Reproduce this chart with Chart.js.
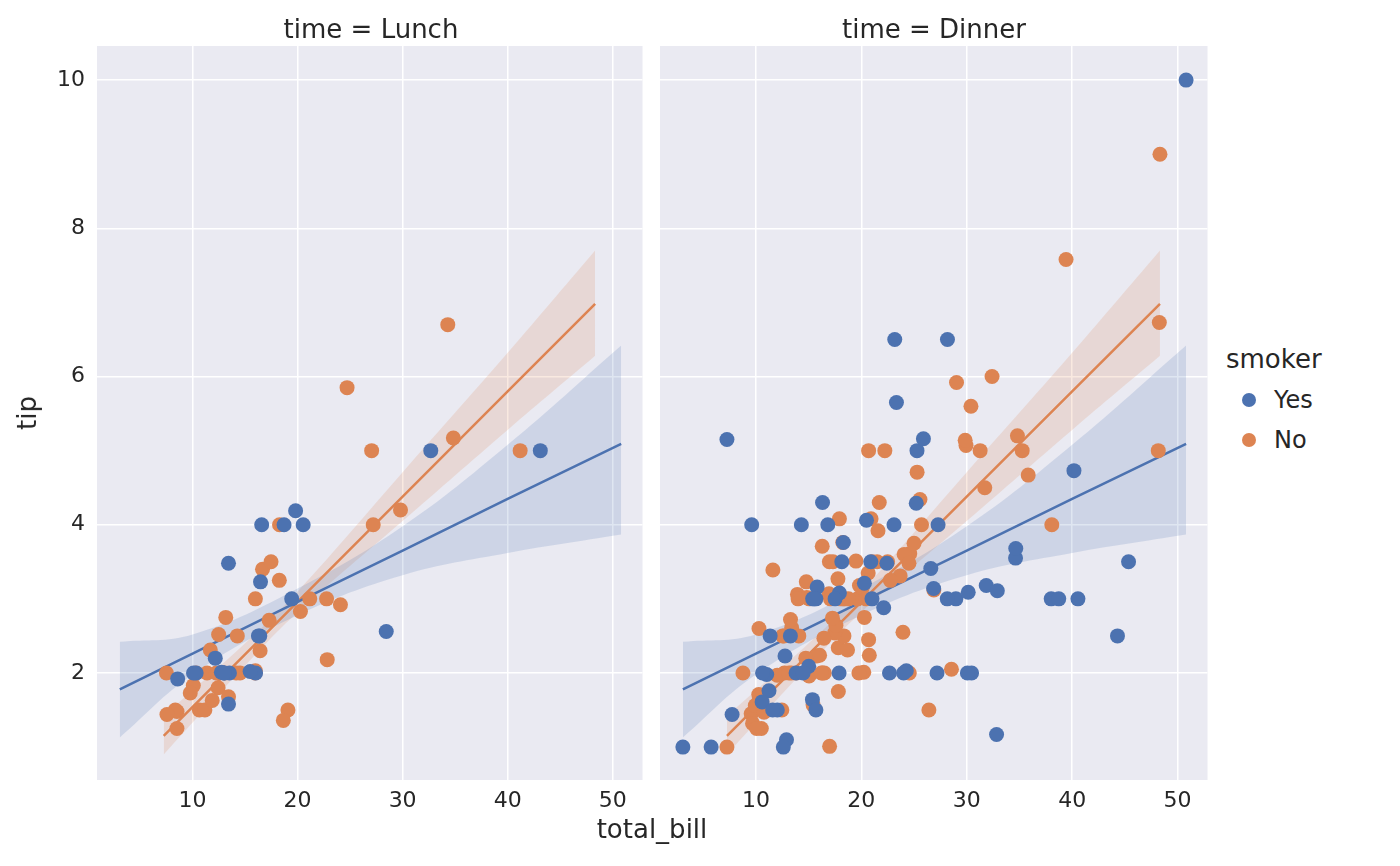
<!DOCTYPE html>
<html>
<head>
<meta charset="utf-8">
<script src="https://cdn.jsdelivr.net/npm/chart.js@4"></script>
<style>
  body { margin: 0; background: #fff; font-family: "DejaVu Sans", sans-serif; color: #262626; }
  #wrap { position: relative; width: 1400px; height: 866px; }
  canvas { position: absolute; top: 0; }
  .title { position: absolute; top: 14px; font-size: 26px; text-align: center; }
  .lbl { position: absolute; font-size: 26px; }
  .legend { position: absolute; left: 1226px; top: 344px; font-size: 26px; }
  .legend div { display: flex; align-items: center; margin-top: 12px; font-size: 24px; }
  .dot { width: 14px; height: 14px; border-radius: 50%; margin: 0 18px 0 16px; }
</style>
</head>
<body>
<div id="wrap">
  <canvas id="lunch" width="650" height="866" style="left:0;width:650px;height:866px"></canvas>
  <canvas id="dinner" width="570" height="866" style="left:645px;width:570px;height:866px"></canvas>
  <div class="title" style="left:97px;width:548px">time = Lunch</div>
  <div class="title" style="left:660px;width:548px">time = Dinner</div>
  <div class="lbl" style="left:540px;top:814px;width:224px;text-align:center">total_bill</div>
  <div class="lbl" style="left:10px;top:398px;transform:rotate(-90deg);transform-origin:center">tip</div>
  <div class="legend">smoker
    <div><span class="dot" style="background:#4c72b0"></span>Yes</div>
    <div><span class="dot" style="background:#dd8452"></span>No</div>
  </div>
</div>
<script>
// [total_bill, tip, smoker, time]
const tips = [
  [16.99,1.01,'No','D'],[10.34,1.66,'No','D'],[21.01,3.5,'No','D'],[23.68,3.31,'No','D'],[24.59,3.61,'No','D'],
  [25.29,4.71,'No','D'],[8.77,2.0,'No','D'],[26.88,3.12,'No','D'],[15.04,1.96,'No','D'],[14.78,3.23,'No','D'],
  [10.27,1.71,'No','D'],[35.26,5.0,'No','D'],[15.42,1.57,'No','D'],[18.43,3.0,'No','D'],[14.83,3.02,'No','D'],
  [21.58,3.92,'No','D'],[10.33,1.67,'No','D'],[16.29,3.71,'No','D'],[16.97,3.5,'No','D'],[20.65,3.35,'No','D'],
  [17.92,4.08,'No','D'],[20.29,2.75,'No','D'],[15.77,2.23,'No','D'],[39.42,7.58,'No','D'],[19.82,3.18,'No','D'],
  [17.81,2.34,'No','D'],[13.37,2.0,'No','D'],[12.69,2.0,'No','D'],[21.7,4.3,'No','D'],[19.65,3.0,'No','D'],
  [9.55,1.45,'No','D'],[18.35,2.5,'No','D'],[15.06,3.0,'No','D'],[20.69,2.45,'No','D'],[17.78,3.27,'No','D'],
  [24.06,3.6,'No','D'],[16.31,2.0,'No','D'],[16.93,3.07,'No','D'],[18.69,2.31,'No','D'],[31.27,5.0,'No','D'],
  [16.04,2.24,'No','D'],[17.46,2.54,'No','D'],[13.94,3.06,'No','D'],[9.68,1.32,'No','D'],[30.4,5.6,'No','D'],
  [18.29,3.0,'No','D'],[22.23,5.0,'No','D'],[32.4,6.0,'No','D'],[28.55,2.05,'No','D'],[18.04,3.0,'No','D'],
  [12.54,2.5,'No','D'],[10.29,2.6,'No','D'],[34.81,5.2,'No','D'],[9.94,1.56,'No','D'],[25.56,4.34,'No','D'],
  [19.49,3.51,'No','D'],[38.01,3.0,'Yes','D'],[26.41,1.5,'No','D'],[11.24,1.76,'Yes','D'],[48.27,6.73,'No','D'],
  [20.29,3.21,'Yes','D'],[13.81,2.0,'Yes','D'],[11.02,1.98,'Yes','D'],[18.29,3.76,'Yes','D'],[17.59,2.64,'No','D'],
  [20.08,3.15,'No','D'],[16.45,2.47,'No','D'],[3.07,1.0,'Yes','D'],[20.23,2.01,'No','D'],[15.01,2.09,'Yes','D'],
  [12.02,1.97,'No','D'],[17.07,3.0,'No','D'],[26.86,3.14,'Yes','D'],[25.28,5.0,'Yes','D'],[14.73,2.2,'No','D'],
  [10.51,1.25,'No','D'],[17.92,3.08,'Yes','D'],[27.2,4.0,'No','L'],[22.76,3.0,'No','L'],[17.29,2.71,'No','L'],
  [19.44,3.0,'Yes','L'],[16.66,3.4,'No','L'],[10.07,1.83,'No','L'],[32.68,5.0,'Yes','L'],[15.98,2.03,'No','L'],
  [34.83,5.17,'No','L'],[13.03,2.0,'No','L'],[18.28,4.0,'No','L'],[24.71,5.85,'No','L'],[21.16,3.0,'No','L'],
  [28.97,3.0,'Yes','D'],[22.49,3.5,'No','D'],[5.75,1.0,'Yes','D'],[16.32,4.3,'Yes','D'],[22.75,3.25,'No','D'],
  [40.17,4.73,'Yes','D'],[27.28,4.0,'Yes','D'],[12.03,1.5,'Yes','D'],[21.01,3.0,'Yes','D'],[12.46,1.5,'No','D'],
  [11.35,2.5,'Yes','D'],[15.38,3.0,'Yes','D'],[44.3,2.5,'Yes','D'],[22.42,3.48,'Yes','D'],[20.92,4.08,'No','D'],
  [15.36,1.64,'Yes','D'],[20.49,4.06,'Yes','D'],[25.21,4.29,'Yes','D'],[18.24,3.76,'No','D'],[14.31,4.0,'Yes','D'],
  [14.0,3.0,'No','D'],[7.25,1.0,'No','D'],[38.07,4.0,'No','D'],[23.95,2.55,'No','D'],[25.71,4.0,'No','D'],
  [17.31,3.5,'No','D'],[29.93,5.07,'No','D'],[10.65,1.5,'No','L'],[12.43,1.8,'No','L'],[24.08,2.92,'No','L'],
  [11.69,2.31,'No','L'],[13.42,1.68,'No','L'],[14.26,2.5,'No','L'],[15.95,2.0,'No','L'],[12.48,2.52,'No','L'],
  [29.8,4.2,'No','L'],[8.52,1.48,'No','L'],[14.52,2.0,'No','L'],[11.38,2.0,'No','L'],[22.82,2.18,'No','L'],
  [19.08,1.5,'No','L'],[20.27,2.83,'No','L'],[11.17,1.5,'No','L'],[12.26,2.0,'No','L'],[18.26,3.25,'No','L'],
  [8.51,1.25,'No','L'],[10.33,2.0,'No','L'],[14.15,2.0,'No','L'],[16.0,2.0,'Yes','L'],[13.16,2.75,'No','L'],
  [17.47,3.5,'No','L'],[34.3,6.7,'No','L'],[41.19,5.0,'No','L'],[27.05,5.0,'No','L'],[16.43,2.3,'No','L'],
  [8.35,1.5,'No','L'],[18.64,1.36,'No','L'],[11.87,1.63,'No','L'],[9.78,1.73,'No','L'],[7.51,2.0,'No','L'],
  [14.07,2.5,'No','D'],[13.13,2.0,'No','D'],[17.26,2.74,'No','D'],[24.55,2.0,'No','D'],[19.77,2.0,'No','D'],
  [29.85,5.14,'No','D'],[48.17,5.0,'No','D'],[25.0,3.75,'No','D'],[13.39,2.61,'No','D'],[16.49,2.0,'No','D'],
  [21.5,3.5,'No','D'],[12.66,2.5,'No','D'],[16.21,2.0,'No','D'],[13.81,2.0,'No','D'],[17.51,3.0,'Yes','D'],
  [24.52,3.48,'No','D'],[20.76,2.24,'No','D'],[31.71,4.5,'No','D'],[10.59,1.61,'Yes','D'],[10.63,2.0,'Yes','D'],
  [50.81,10.0,'Yes','D'],[15.81,3.16,'Yes','D'],[7.25,5.15,'Yes','D'],[31.85,3.18,'Yes','D'],[16.82,4.0,'Yes','D'],
  [32.9,3.11,'Yes','D'],[17.89,2.0,'Yes','D'],[14.48,2.0,'Yes','D'],[9.6,4.0,'Yes','D'],[34.63,3.55,'Yes','D'],
  [34.65,3.68,'Yes','D'],[23.33,5.65,'Yes','D'],[45.35,3.5,'Yes','D'],[23.17,6.5,'Yes','D'],[40.55,3.0,'Yes','D'],
  [20.69,5.0,'No','D'],[20.9,3.5,'Yes','D'],[30.46,2.0,'Yes','D'],[18.15,3.5,'Yes','D'],[23.1,4.0,'Yes','D'],
  [15.69,1.5,'Yes','D'],[19.81,4.19,'Yes','L'],[28.44,2.56,'Yes','L'],[15.48,2.02,'Yes','L'],[16.58,4.0,'Yes','L'],
  [7.56,1.44,'No','L'],[10.34,2.0,'Yes','L'],[43.11,5.0,'Yes','L'],[13.0,2.0,'Yes','L'],[13.51,2.0,'Yes','L'],
  [18.71,4.0,'Yes','L'],[12.74,2.01,'Yes','L'],[13.0,2.0,'Yes','L'],[16.4,2.5,'Yes','L'],[20.53,4.0,'Yes','L'],
  [16.47,3.23,'Yes','L'],[26.59,3.41,'Yes','D'],[38.73,3.0,'Yes','D'],[24.27,2.03,'Yes','D'],[12.76,2.23,'Yes','D'],
  [30.06,2.0,'Yes','D'],[25.89,5.16,'Yes','D'],[48.33,9.0,'No','D'],[13.27,2.5,'Yes','D'],[28.17,6.5,'Yes','D'],
  [12.9,1.1,'Yes','D'],[28.15,3.0,'Yes','D'],[11.59,1.5,'Yes','D'],[7.74,1.44,'Yes','D'],[30.14,3.09,'Yes','D'],
  [12.16,2.2,'Yes','L'],[13.42,3.48,'Yes','L'],[8.58,1.92,'Yes','L'],[15.98,3.0,'No','L'],[13.42,1.58,'Yes','L'],
  [16.27,2.5,'Yes','L'],[10.09,2.0,'Yes','L'],[20.45,3.0,'No','D'],[13.28,2.72,'No','D'],[22.12,2.88,'Yes','D'],
  [24.01,2.0,'Yes','D'],[15.69,3.0,'Yes','D'],[11.61,3.39,'No','D'],[10.77,1.47,'No','D'],[15.53,3.0,'Yes','D'],
  [10.07,1.25,'No','D'],[12.6,1.0,'Yes','D'],[32.83,1.17,'Yes','D'],[35.83,4.67,'No','D'],[29.03,5.92,'No','D'],
  [27.18,2.0,'Yes','D'],[22.67,2.0,'Yes','D'],[17.82,1.75,'No','D'],[18.78,3.0,'No','D']
];

const colors = { Yes: '#4c72b0', No: '#dd8452' };
const bands = { Yes: 'rgba(76,114,176,0.18)', No: 'rgba(221,132,82,0.18)' };

// fitted lines and confidence bands: [x, fit, lower, upper]
const fits = {
  Yes: [[3.07,1.78,1.13,2.42],[10,2.26,1.98,2.52],[20,2.96,2.78,3.14],[30,3.65,3.32,3.98],[40,4.35,3.62,5.08],[50.81,5.09,3.87,6.42]],
  No:  [[7.25,1.15,0.9,1.42],[15,2.25,2.1,2.4],[20,2.96,2.82,3.1],[30,4.38,4.05,4.71],[40,5.8,5.28,6.32],[48.33,6.98,6.28,7.7]]
};

const panelBg = {
  id: 'panelBg',
  beforeDraw(chart) {
    const { ctx, chartArea: a } = chart;
    ctx.save();
    ctx.fillStyle = '#eaeaf2';
    ctx.fillRect(a.left, a.top, a.right - a.left, a.bottom - a.top);
    ctx.restore();
  }
};

function buildDatasets(time) {
  const ds = [];
  ['Yes', 'No'].forEach((s, i) => {
    const f = fits[s];
    ds.push({ type: 'line', data: f.map(r => ({ x: r[0], y: r[3] })), borderWidth: 0, pointRadius: 0, tension: 0.4,
              fill: '+1', backgroundColor: bands[s], order: 10 + i });
    ds.push({ type: 'line', data: f.map(r => ({ x: r[0], y: r[2] })), borderWidth: 0, pointRadius: 0, tension: 0.4,
              fill: false, order: 10 + i });
    ds.push({ type: 'line', data: f.map(r => ({ x: r[0], y: r[1] })), borderColor: colors[s], borderWidth: 2.5,
              pointRadius: 0, fill: false, order: 5 + i });
    ds.push({ type: 'scatter', data: tips.filter(t => t[2] === s && t[3] === time).map(t => ({ x: t[0], y: t[1] })),
              backgroundColor: colors[s], borderWidth: 0, pointRadius: 7.5, order: 1 + i });
  });
  return ds;
}

function makeChart(id, time, showY) {
  const tickFont = { family: 'DejaVu Sans', size: 22 };
  return new Chart(document.getElementById(id), {
    data: { datasets: buildDatasets(time) },
    options: {
      responsive: false, animation: false,
      layout: { padding: showY ? { left: 0, right: 5, top: 46, bottom: 46 } : { left: 15, right: 7, top: 46, bottom: 46 } },
      plugins: { legend: { display: false }, tooltip: { enabled: false } },
      scales: {
        x: { type: 'linear', min: 0.9, max: 52.84,
             afterBuildTicks: s => { s.ticks = [10, 20, 30, 40, 50].map(v => ({ value: v })); },
             afterFit: s => { s.height = 40; },
             grid: { color: '#ffffff', lineWidth: 1.5, drawTicks: false }, border: { display: false },
             ticks: { font: tickFont, color: '#262626', padding: 8 } },
        y: { type: 'linear', min: 0.556, max: 10.46,
             afterBuildTicks: s => { s.ticks = [2, 4, 6, 8, 10].map(v => ({ value: v })); },
             afterFit: s => { s.width = showY ? 97 : 0; },
             grid: { color: '#ffffff', lineWidth: 1.5, drawTicks: false }, border: { display: false },
             ticks: { display: showY, font: tickFont, color: '#262626', padding: 12 } }
      }
    },
    plugins: [panelBg]
  });
}

makeChart('lunch', 'L', true);
makeChart('dinner', 'D', false);
</script>
</body>
</html>
